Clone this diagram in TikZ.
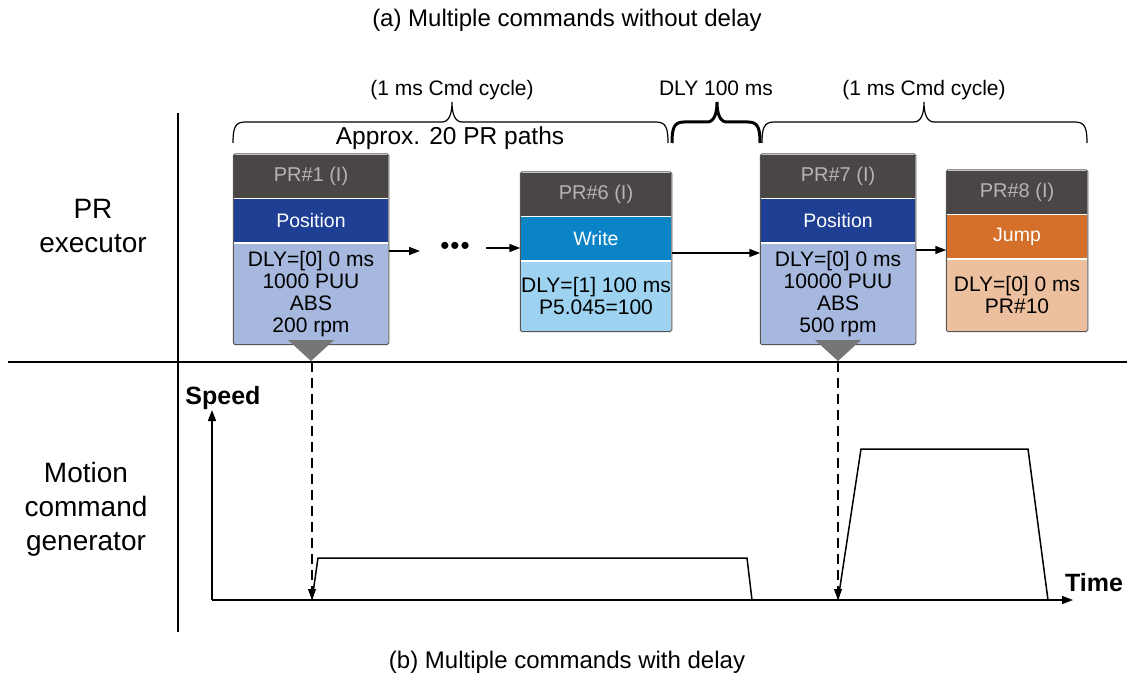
\documentclass[tikz,border=0pt]{standalone}
\usepackage{fontspec}
\setmainfont{Liberation Sans}
\usetikzlibrary{positioning,fit,arrows.meta}
\definecolor{hdgray}{HTML}{4A4645}
\definecolor{hdtext}{HTML}{B4B4B4}
\definecolor{posblue}{HTML}{1F3F94}
\definecolor{posbody}{HTML}{A6B8DE}
\definecolor{wrtblue}{HTML}{0A84C6}
\definecolor{wrtbody}{HTML}{9DD3F1}
\definecolor{jmporange}{HTML}{D4702A}
\definecolor{jmpbody}{HTML}{ECC09F}
\definecolor{framegray}{HTML}{555555}
\definecolor{funnelgray}{HTML}{767676}
% curly brace above the PR boxes: left x, tip x, right x, options
\newcommand{\cmdbrace}[4]{%
  \draw[#4] (#1,143) .. controls (#1,128) and (#1+2,122) .. (#1+12,122)
    -- (#2-10,122) .. controls (#2-3,122) and (#2,114) .. (#2,102)
    .. controls (#2,114) and (#2+3,122) .. (#2+10,122)
    -- (#3-12,122) .. controls (#3-2,122) and (#3,128) .. (#3,143);}
\begin{document}
\begin{tikzpicture}[x=1pt, y=-1pt, >={Stealth[length=11pt, width=8pt, inset=0pt]}, line width=1.5pt,
  hd/.style={fill=hdgray, text=hdtext, minimum height=43pt, inner sep=0pt, font=\fontsize{20}{22}\selectfont},
  band/.style={text=white, minimum height=43pt, inner sep=0pt, font=\fontsize{19.5}{22}\selectfont},
  body/.style={align=center, inner sep=0pt, font=\fontsize{21}{22}\selectfont},
  frame/.style={draw=framegray, line width=1pt, inner sep=0pt, rounded corners=1.5pt},
  side/.style={align=center, font=\fontsize{28}{34}\selectfont},
  axlabel/.style={font=\fontsize{25}{28}\selectfont\bfseries},
  trig/.style={dash pattern=on 10pt off 6pt, ->, line width=1.2pt}]
\useasboundingbox (0,0) rectangle (1129,679);
% titles
\node[font=\fontsize{24}{28}\selectfont] (ttla) at (567,20) {(a) Multiple commands without delay};
\node[font=\fontsize{24}{28}\selectfont] (ttlb) at (567,662) {(b) Multiple commands with delay};
% frame lines
\draw (178,113) -- (178,632);
\draw (8,362) -- (1127,362);
\node[side] (pre) at (93,226) {PR\\executor};
\node[side] (mcg) at (86,509) {Motion\\command\\generator};
% braces
\cmdbrace{233}{452}{668}{line width=1.2pt}
\cmdbrace{672}{717}{760}{line width=3pt}
\cmdbrace{762}{924}{1087}{line width=1.2pt}
\node[font=\fontsize{21}{24}\selectfont] (cyc1) at (452,90) {(1 ms Cmd cycle)};
\node[font=\fontsize{21}{24}\selectfont] (dly) at (716,88) {DLY 100 ms};
\node[font=\fontsize{21}{24}\selectfont] (cyc2) at (924,90) {(1 ms Cmd cycle)};
\node[font=\fontsize{24.5}{28}\selectfont] (apx) at (450,138) {Approx. 20 PR paths};
% PR#1
\node[hd, minimum width=154pt, anchor=north] (pr1h) at (311,154) {PR\#1 (I)};
\node[band, fill=posblue, minimum width=154pt, below=0pt of pr1h] (pr1t) {Position};
\node[body, fill=posbody, minimum width=154pt, minimum height=100pt, below=0pt of pr1t] (pr1b) {DLY=[0] 0 ms\\1000 PUU\\ABS\\200 rpm};
\node[frame, fit=(pr1h)(pr1b)] (pr1) {};
% PR#6
\node[hd, minimum width=150pt, anchor=north] (pr6h) at (596,172) {PR\#6 (I)};
\node[band, fill=wrtblue, minimum width=150pt, below=0pt of pr6h] (pr6t) {Write};
\node[body, fill=wrtbody, minimum width=150pt, minimum height=69pt, below=0pt of pr6t] (pr6b) {DLY=[1] 100 ms\\P5.045=100};
\node[frame, fit=(pr6h)(pr6b)] (pr6) {};
% PR#7
\node[hd, minimum width=154pt, anchor=north] (pr7h) at (838,154) {PR\#7 (I)};
\node[band, fill=posblue, minimum width=154pt, below=0pt of pr7h] (pr7t) {Position};
\node[body, fill=posbody, minimum width=154pt, minimum height=100pt, below=0pt of pr7t] (pr7b) {DLY=[0] 0 ms\\10000 PUU\\ABS\\500 rpm};
\node[frame, fit=(pr7h)(pr7b)] (pr7) {};
% PR#8
\node[hd, minimum width=140pt, anchor=north] (pr8h) at (1017,170) {PR\#8 (I)};
\node[band, fill=jmporange, minimum width=140pt, below=0pt of pr8h] (pr8t) {Jump};
\node[body, fill=jmpbody, minimum width=140pt, minimum height=71pt, below=0pt of pr8t] (pr8b) {DLY=[0] 0 ms\\PR\#10};
\node[frame, fit=(pr8h)(pr8b)] (pr8) {};
% links between PR boxes
\node[font=\fontsize{26}{28}\selectfont, inner sep=0pt] (dots) at (455,248) {\textbullet\kern1pt\textbullet\kern1pt\textbullet};
\draw[->] ([yshift=-8pt]pr1b.north east) -- ([yshift=-8pt]pr1b.north east -| 420,0);
\draw[->] ([xshift=16pt]dots.east) -- (dots.east -| pr6t.west);
\draw[->] ([yshift=8pt]pr6t.south east) -- ([yshift=8pt]pr6t.south east -| pr7b.west);
\draw[->] ([yshift=-7pt]pr7b.north east) -- ([yshift=-7pt]pr7b.north east -| pr8t.west);
% trigger funnels
\fill[funnelgray] (288,340) -- (334,340) -- (311,361) -- cycle;
\fill[funnelgray] (815,340) -- (861,340) -- (838,361) -- cycle;
% speed profile
\coordinate (o) at (212,600);
\coordinate (s1) at (312,600);
\coordinate (s2) at (838,600);
\draw[->] (o) -- (212,410);
\draw[->] (o) -- (1073,600);
\node[axlabel] (spd) at (223,398) {Speed};
\node[axlabel] (tim) at (1094,583) {Time};
\draw[trig] (312,362) -- (s1);
\draw[trig] (838,362) -- (s2);
\draw (s1) -- (318,558) -- (747,558) -- (752,600);
\draw (s2) -- (861,449) -- (1028,449) -- (1048,600);
\end{tikzpicture}
\end{document}
